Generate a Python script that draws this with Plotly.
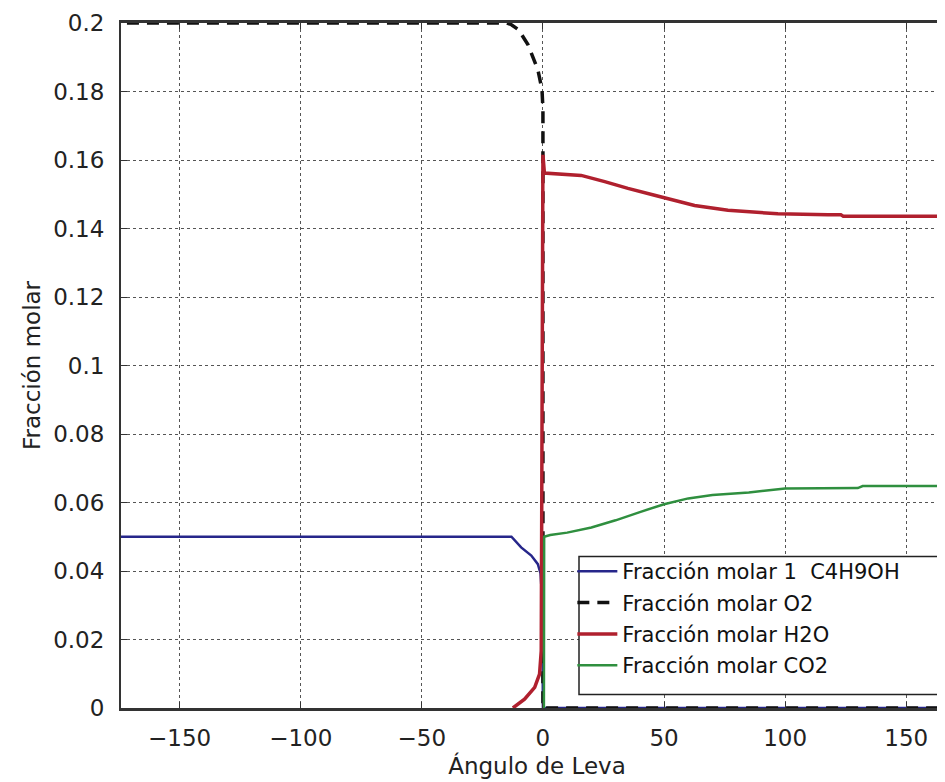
import plotly.graph_objects as go

# ---- data ----
x_c4 = [-180, -13, -9, -4.8, -2.1, -1.0, -0.7, -0.3, 0, 180]
y_c4 = [0.05, 0.05, 0.0469, 0.0445, 0.042, 0.0393, 0.036, 0.030, 0, 0]

x_o2 = [-180, -15, -13, -10, -6.2, -2.1, -0.4, 0, 0, 180]
y_o2 = [0.2, 0.2, 0.1995, 0.198, 0.1937, 0.1864, 0.1806, 0.175, 0, 0]

x_h2o = [-12.4, -7.6, -3.4, -1.4, -0.7, 0, 0.6, 15.8, 25.5, 35.1, 46.1,
         62.6, 76.4, 90.1, 97, 117.7, 123, 124, 180]
y_h2o = [0, 0.0026, 0.006, 0.0099, 0.0167, 0.1615, 0.1562, 0.1555, 0.1537,
         0.1517, 0.1497, 0.1467, 0.1453, 0.1448, 0.1443, 0.1440, 0.1440, 0.1436, 0.1436]

x_co2 = [0.4, 0.5, 3, 10, 20, 30, 40, 50, 60, 70, 85, 100, 130, 132, 180]
y_co2 = [0, 0.050, 0.0505, 0.0512, 0.0527, 0.0548, 0.0572, 0.0595, 0.0612,
         0.0622, 0.0629, 0.0641, 0.0642, 0.0648, 0.0648]

names = ["Fracción molar 1  C4H9OH", "Fracción molar O2",
         "Fracción molar H2O", "Fracción molar CO2"]

x_ticks = [-150, -100, -50, 0, 50, 100, 150]
y_ticks = [0, 0.02, 0.04, 0.06, 0.08, 0.1, 0.12, 0.14, 0.16, 0.18, 0.2]

FONT = "DejaVu Sans"

fig = go.Figure()
fig.add_trace(go.Scatter(x=x_c4, y=y_c4, mode="lines", name=names[0],
                         line=dict(color="#26268a", width=2.5), legendgroup="a"))
fig.add_trace(go.Scatter(x=x_o2, y=y_o2, mode="lines", name=names[1],
                         line=dict(color="#111111", width=3.5, dash="12px,8px"), legendgroup="b"))
fig.add_trace(go.Scatter(x=x_h2o, y=y_h2o, mode="lines", name=names[2],
                         line=dict(color="#b0202e", width=3.5), legendgroup="c"))
fig.add_trace(go.Scatter(x=x_co2, y=y_co2, mode="lines", name=names[3],
                         line=dict(color="#2f8f3f", width=2.5), legendgroup="d"))

# plot area: x 113..945, y 15..700.5
L, T, B = 113, 15, 81.5
W, H = 945, 782
pw, ph = W - L, H - T - B

lx = (571 - L) / pw
ly_top = (700.5 - 549) / ph
ly_bot = (700.5 - 687) / ph

fig.add_shape(type="rect", xref="paper", yref="paper",
              x0=lx, x1=1.05, y0=ly_bot, y1=ly_top,
              line=dict(color="#222", width=1.5), fillcolor="white", layer="above")

fig.update_layout(
    width=W, height=H,
    margin=dict(l=L, r=0, t=T, b=B, autoexpand=False),
    paper_bgcolor="white", plot_bgcolor="white",
    font=dict(family=FONT, size=23, color="#222"),
    showlegend=True,
    legend=dict(x=lx - 0.008, y=ly_top + 0.008, xanchor="left", yanchor="top",
                bgcolor="rgba(0,0,0,0)", borderwidth=0,
                font=dict(family=FONT, size=21, color="#111"),
                tracegroupgap=1, itemwidth=40),
    xaxis=dict(range=[-174.2, 169.3], tickvals=x_ticks, automargin=False,
               showgrid=True, gridcolor="#555", griddash="dot", gridwidth=1,
               zeroline=False, showline=True, linecolor="#333", linewidth=2.5,
               mirror="ticks", ticks="inside", ticklen=6, tickcolor="#333",
               ticklabelstandoff=8,
               title=dict(text="Ángulo de Leva", font=dict(family=FONT, size=23), standoff=8)),
    yaxis=dict(range=[0, 0.2], tickvals=y_ticks, automargin=False,
               showgrid=True, gridcolor="#555", griddash="dot", gridwidth=1,
               zeroline=False, showline=True, linecolor="#333", linewidth=2,
               mirror=False, ticks="inside", ticklen=6, tickcolor="#333",
               ticklabelstandoff=10,
               title=dict(text="Fracción molar", font=dict(family=FONT, size=23), standoff=6)),
)

fig.write_html("out.html")
